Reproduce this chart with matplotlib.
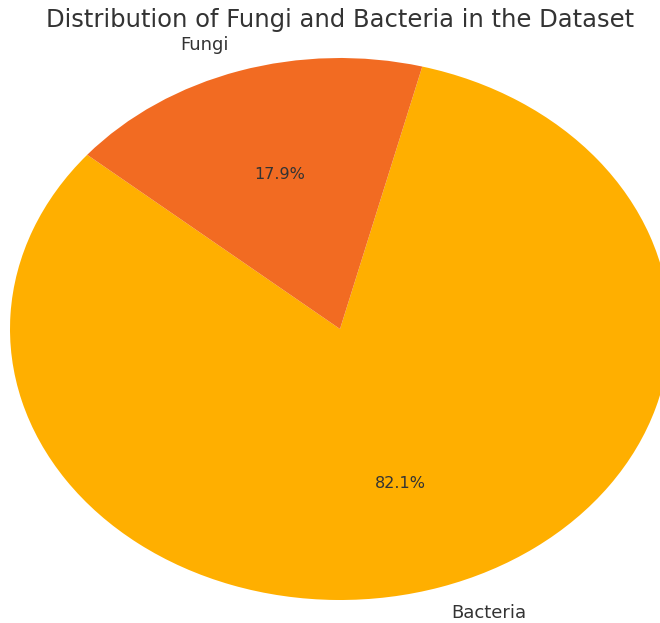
import matplotlib
matplotlib.use("Agg")
import matplotlib.pyplot as plt

labels = ["Bacteria", "Fungi"]
values = [82.1, 17.9]
colors = ["#FFAF00", "#F26B22"]

W, H = 660, 623
fig = plt.figure(figsize=(W / 100, H / 100), dpi=100)
ax = fig.add_axes([10 / W, (H - 600) / H, 660 / W, 542 / H])
wedges, texts, autotexts = ax.pie(values, labels=labels, colors=colors, startangle=140,
                                  autopct="%1.1f%%", pctdistance=0.6, labeldistance=1.1,
                                  textprops={"color": "#333333", "fontsize": 13})
for t in autotexts:
    t.set_fontsize(11.5)
ax.set_aspect("auto")
ax.set_xlim(-1, 1)
ax.set_ylim(-1, 1)
ax.axis("off")
fig.text(340 / W, (H - 20) / H, "Distribution of Fungi and Bacteria in the Dataset",
         ha="center", va="center", fontsize=17.5, color="#333333")
fig.savefig("out.png", dpi=100)
